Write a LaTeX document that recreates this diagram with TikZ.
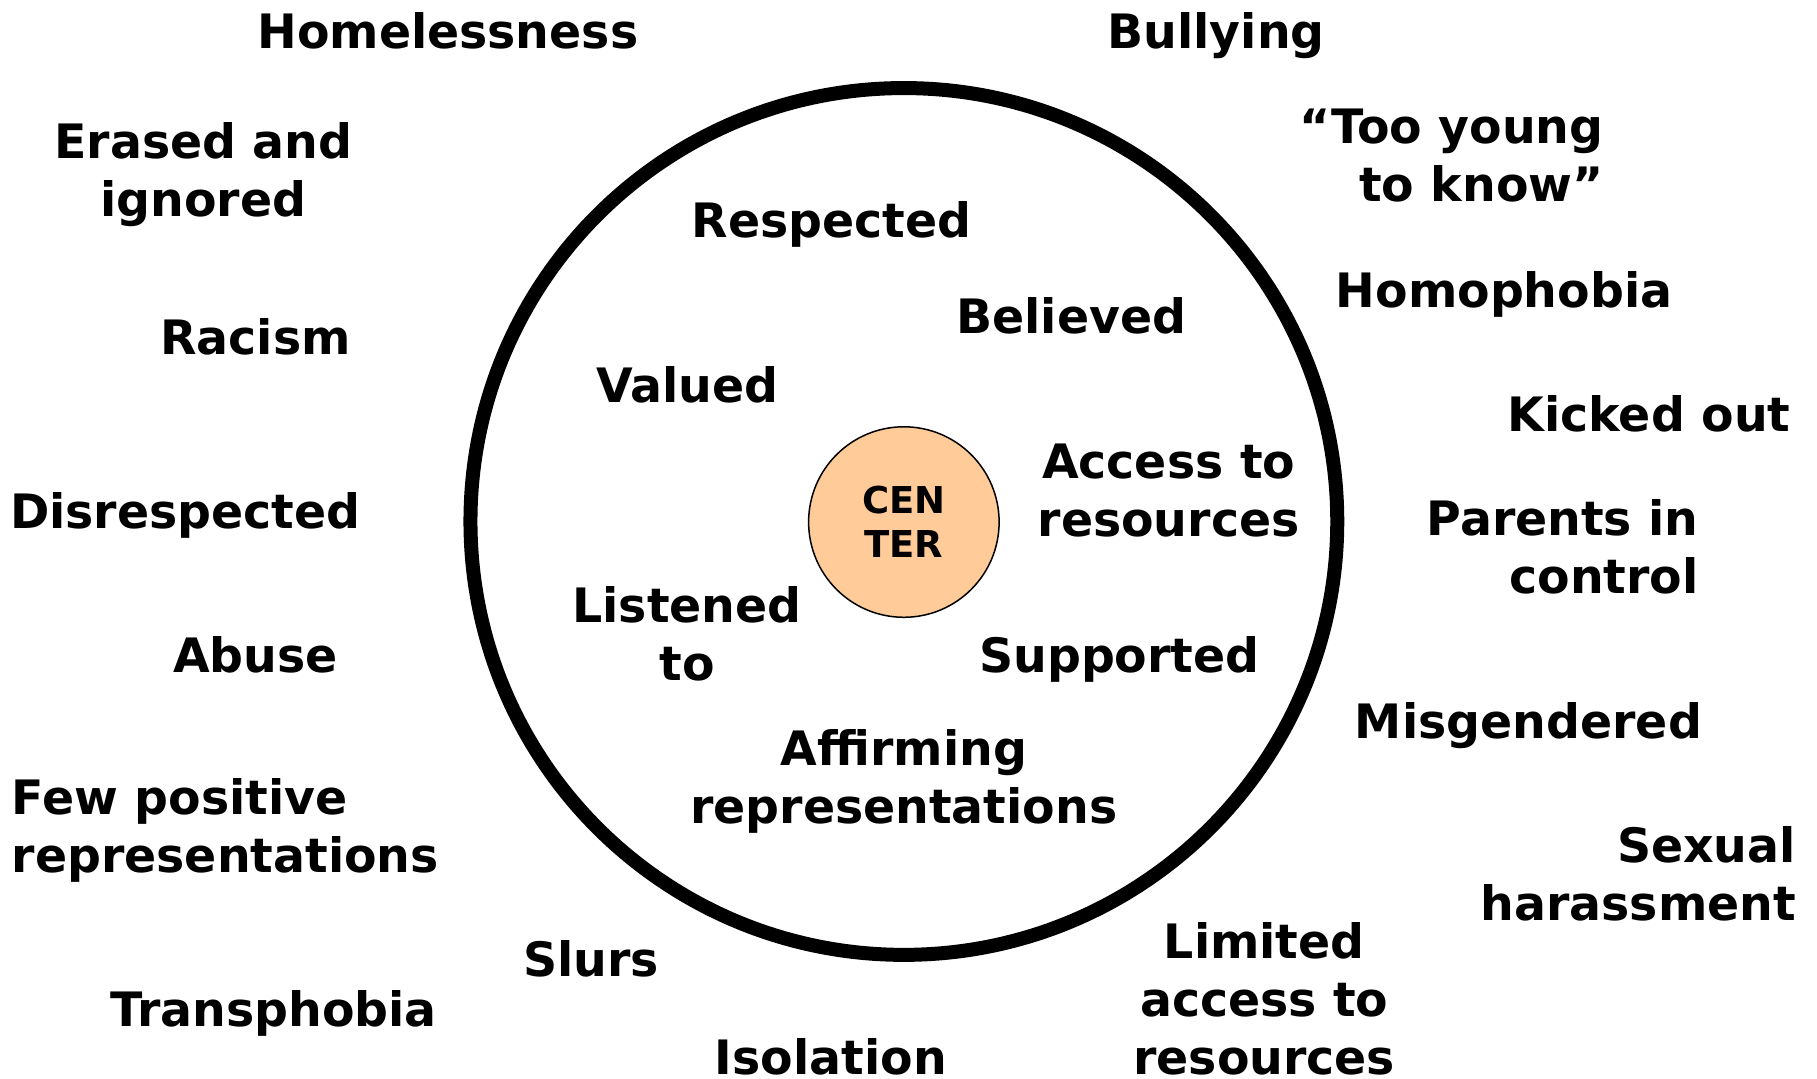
\documentclass[tikz,border=0pt]{standalone}
\usepackage{fontspec}
\setmainfont{DejaVu Sans}
\definecolor{peach}{HTML}{FFCC99}
\begin{document}
\begin{tikzpicture}[x=1.1588pt,y=-1.1588pt,
  lbl/.style={font=\bfseries\fontsize{47.4}{58}\selectfont, inner sep=0pt, anchor=base},
  lblc/.style={lbl, align=center},
  lblr/.style={lbl, align=right, anchor=base east},
  lbll/.style={lbl, align=left, anchor=base west}]
\useasboundingbox[fill=white] (0,0) rectangle (1568,931);
% rings
\node[circle, draw=black, line width=14pt, minimum size=866.8pt, inner sep=0pt] (ring) at (780,450) {};
\node[circle, draw=black, fill=peach, line width=1.5pt, minimum size=190.5pt, inner sep=0pt,
      align=center, font=\bfseries\fontsize{37}{44}\selectfont] (center) at (780,450.5) {CEN\\TER};
% inner labels
\node[lbl] (respected) at (717.5,205) {Respected};
\node[lbl] (believed) at (924.5,288) {Believed};
\node[lbl] (valued) at (593,347) {Valued};
\node[lblc] (access) at (1008.5,463) {Access to\\resources};
\node[lblc] (listened) at (593,587) {Listened\\to};
\node[lbl] (supported) at (966,580) {Supported};
\node[lblc] (affirming) at (780,711) {Affirming\\representations};
% outer labels left
\node[lbl] (homeless) at (386.5,42) {Homelessness};
\node[lblc] (erased) at (175.5,187) {Erased and\\ignored};
\node[lbl] (racism) at (220.5,306) {Racism};
\node[lbl] (disresp) at (160,456) {Disrespected};
\node[lbl] (abuse) at (220.5,580) {Abuse};
\node[lbll] (fewpos) at (10,753) {Few positive\\representations};
\node[lbl] (transph) at (236,886) {Transphobia};
\node[lbl] (slurs) at (510,843) {Slurs};
\node[lbl] (isolation) at (717,927) {Isolation};
% outer labels right
\node[lbl] (bullying) at (1049.5,42) {Bullying};
\node[lblr] (tooyoung) at (1384,174) {“Too young\\to know”};
\node[lbl] (homophobia) at (1298,265) {Homophobia};
\node[lbl] (kicked) at (1423,372) {Kicked out};
\node[lblr] (parents) at (1466,512) {Parents in\\control};
\node[lbl] (misgendered) at (1319,637) {Misgendered};
\node[lblr] (sexual) at (1550,794) {Sexual\\harassment};
\node[lblc] (limited) at (1091,927) {Limited\\access to\\resources};
\end{tikzpicture}
\end{document}
